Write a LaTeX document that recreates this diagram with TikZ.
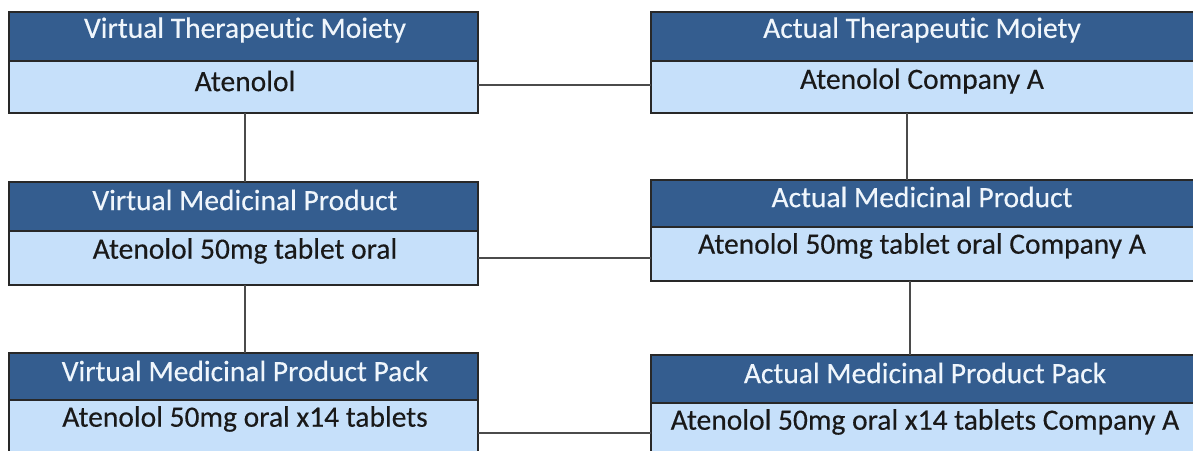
\documentclass[tikz,border=0pt]{standalone}
\usepackage{fontspec}
\setmainfont[Ligatures=NoCommon,FakeBold=0.3]{Carlito}
\definecolor{hdrblue}{RGB}{52,93,143}
\definecolor{bodyblue}{RGB}{198,224,250}
\definecolor{edge}{RGB}{40,40,40}
\definecolor{wire}{RGB}{75,75,75}
\definecolor{bodytext}{RGB}{25,25,25}
\definecolor{hdrtext}{RGB}{240,246,252}
\begin{document}
\begin{tikzpicture}[x=1pt,y=-1pt,
  hdrbox/.style={draw=edge,line width=1.6pt,fill=hdrblue,anchor=north west,inner sep=0pt,outer sep=0pt},
  bodybox/.style={draw=edge,line width=1.6pt,fill=bodyblue,anchor=north west,inner sep=0pt,outer sep=0pt},
  hdrtxt/.style={text=hdrtext,font=\fontsize{29.5}{32}\selectfont,inner sep=0pt},
  bodytxt/.style={text=bodytext,font=\fontsize{29.5}{32}\selectfont,inner sep=0pt},
  link/.style={draw=wire,line width=1.8pt}]
\useasboundingbox (0,0) rectangle (1193,450);
\clip (0,0) rectangle (1193,450);
% left column
\node[hdrbox,minimum width=469pt,minimum height=49pt] (vtmH) at (9,12) {};
\node[bodybox,minimum width=469pt,minimum height=52pt] (vtmB) at (9,61) {};
\node[hdrbox,minimum width=469pt,minimum height=49pt] (vmpH) at (9,182) {};
\node[bodybox,minimum width=469pt,minimum height=54pt] (vmpB) at (9,231) {};
\node[hdrbox,minimum width=469pt,minimum height=47pt] (vmppH) at (9,353) {};
\node[bodybox,minimum width=469pt,minimum height=66pt] (vmppB) at (9,400) {};
% right column
\node[hdrbox,minimum width=550pt,minimum height=49pt] (atmH) at (651,12) {};
\node[bodybox,minimum width=550pt,minimum height=52pt] (atmB) at (651,61) {};
\node[hdrbox,minimum width=550pt,minimum height=47pt] (ampH) at (651,180) {};
\node[bodybox,minimum width=550pt,minimum height=54pt] (ampB) at (651,227) {};
\node[hdrbox,minimum width=550pt,minimum height=48pt] (amppH) at (651,355) {};
\node[bodybox,minimum width=550pt,minimum height=62pt] (amppB) at (651,403) {};
% texts
\node[hdrtxt] (vtmHt) at (245,30) {Virtual Therapeutic Moiety};
\node[bodytxt] (vtmBt) at (245,81) {Atenolol};
\node[hdrtxt] (vmpHt) at (245,200) {Virtual Medicinal Product};
\node[bodytxt] (vmpBt) at (245,251) {Atenolol 50mg tablet oral};
\node[hdrtxt] (vmppHt) at (245,371) {Virtual Medicinal Product Pack};
\node[bodytxt] (vmppBt) at (245,419) {Atenolol 50mg oral x14 tablets};
\node[hdrtxt] (atmHt) at (922,30) {Actual Therapeutic Moiety};
\node[bodytxt] (atmBt) at (922,81) {Atenolol Company A};
\node[hdrtxt] (ampHt) at (922,197) {Actual Medicinal Product};
\node[bodytxt] (ampBt) at (922,246) {Atenolol 50mg tablet oral Company A};
\node[hdrtxt] (amppHt) at (925,373) {Actual Medicinal Product Pack};
\node[bodytxt] (amppBt) at (925,422) {Atenolol 50mg oral x14 tablets Company A};
% connectors
\coordinate (c1) at (478,85);
\coordinate (c2) at (478,258);
\coordinate (c3) at (478,433);
\draw[link] (c1) -- (c1 -| atmB.west);
\draw[link] (c2) -- (c2 -| ampB.west);
\draw[link] (c3) -- (c3 -| amppB.west);
\coordinate (v1) at (245,113);
\coordinate (v2) at (245,285);
\coordinate (v3) at (907,113);
\coordinate (v4) at (910,281);
\draw[link] (v1) -- (v1 |- vmpH.north);
\draw[link] (v2) -- (v2 |- vmppH.north);
\draw[link] (v3) -- (v3 |- ampH.north);
\draw[link] (v4) -- (v4 |- amppH.north);
\end{tikzpicture}
\end{document}
